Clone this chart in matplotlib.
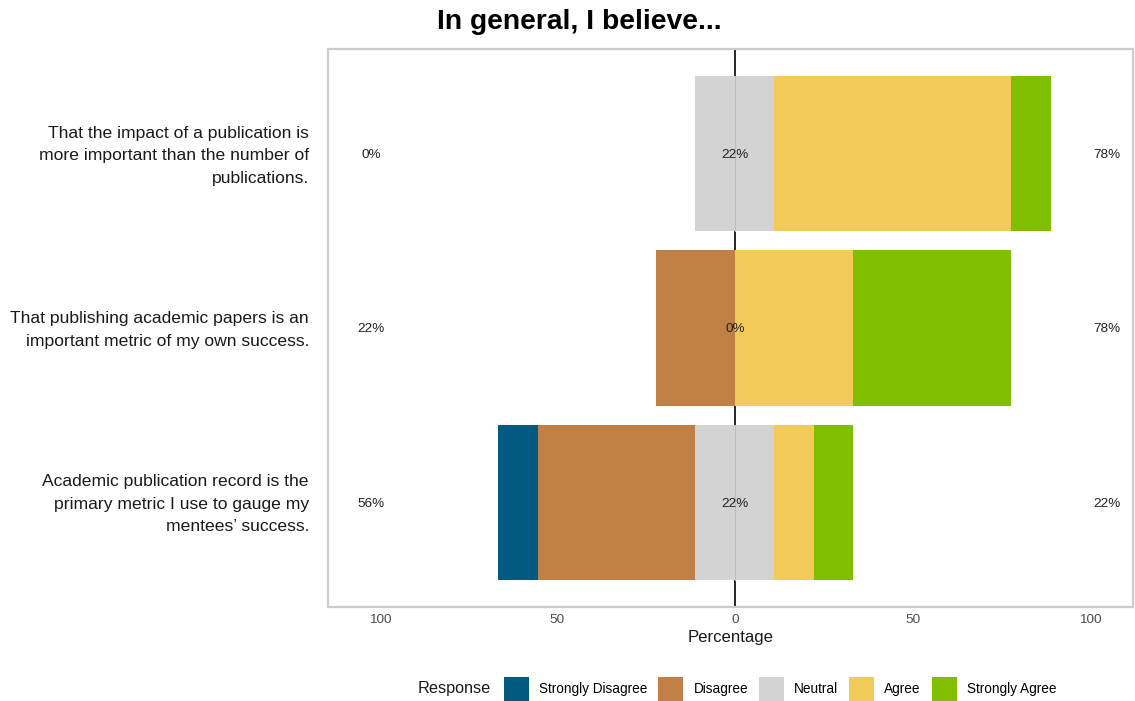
import matplotlib
matplotlib.use("Agg")
import matplotlib.pyplot as plt
from matplotlib.patches import Patch
from matplotlib.transforms import offset_copy
import numpy as np

plt.rcParams['font.family'] = ['Liberation Sans', 'DejaVu Sans']

# Survey items, top to bottom
items = [
    "That the impact of a publication is\nmore important than the number of\npublications.",
    "That publishing academic papers is an\nimportant metric of my own success.",
    "Academic publication record is the\nprimary metric I use to gauge my\nmentees\u2019 success.",
]

responses = ["Strongly Disagree", "Disagree", "Neutral", "Agree", "Strongly Agree"]
colors = ["#035a80", "#bf7f45", "#d3d3d3", "#f2ca5a", "#80bf00"]

# Percentage of respondents per response level, one value per item
strongly_disagree = [0.0, 0.0, 11.11]
disagree = [0.0, 22.22, 44.44]
neutral = [22.22, 0.0, 22.22]
agree = [66.67, 33.33, 11.11]
strongly_agree = [11.11, 44.44, 11.11]

fig = plt.figure(figsize=(11.35, 7.01), dpi=100)
ax = fig.add_axes([328 / 1135, 94 / 701, 805 / 1135, 558 / 701])

ypos = np.array([3, 2, 1])
h = 0.89

# zero line sits behind the bars
ax.axvline(0, color="black", lw=1.2, zorder=1)

sd = np.array(strongly_disagree)
d = np.array(disagree)
n = np.array(neutral)
a = np.array(agree)
sa = np.array(strongly_agree)

# negative side: half neutral, then disagree, then strongly disagree
ax.barh(ypos, -n / 2, height=h, color=colors[2], lw=0, zorder=2)
ax.barh(ypos, -d, left=-n / 2, height=h, color=colors[1], lw=0, zorder=2)
ax.barh(ypos, -sd, left=-n / 2 - d, height=h, color=colors[0], lw=0, zorder=2)
# positive side: half neutral, then agree, then strongly agree
ax.barh(ypos, n / 2, height=h, color=colors[2], lw=0, zorder=2)
ax.barh(ypos, a, left=n / 2, height=h, color=colors[3], lw=0, zorder=2)
ax.barh(ypos, sa, left=n / 2 + a, height=h, color=colors[4], lw=0, zorder=2)
# faint seam between the two neutral halves
for y, nv in zip(ypos, n):
    if nv > 0:
        ax.plot([0, 0], [y - h / 2, y + h / 2], color="#bdbdbd", lw=0.8, zorder=3)

# summary labels: low, neutral, high
low = sd + d
high = a + sa
pct_tr = offset_copy(ax.transData, fig=fig, x=0, y=-1.5, units="dots")
for y, lo, ne, hi in zip(ypos, low, n, high):
    kw = dict(va="center", ha="center", fontsize=9.7, color="#222222", zorder=4,
              transform=pct_tr)
    ax.text(-102.5, y, f"{int(np.floor(lo + 0.5))}%", **kw)
    ax.text(0, y, f"{int(np.floor(ne + 0.5))}%", **kw)
    ax.text(104.8, y, f"{int(np.floor(hi + 0.5))}%", **kw)

ax.set_xlim(-114.6, 112.1)
ax.set_ylim(0.4, 3.6)

ticks = [-100, -50, 0, 50, 100]
ax.set_xticks(ticks)
ax.set_xticklabels([str(abs(t)) for t in ticks])
ax.set_yticks(ypos)
ax.set_yticklabels([])
ax.tick_params(axis="x", length=0, pad=5, labelsize=9.7, labelcolor="#4d4d4d")
ax.tick_params(axis="y", length=0)
ax.set_xlabel("Percentage", fontsize=12.1, color="#1a1a1a", labelpad=3)

# item labels, right-aligned left of the panel
label_tr = offset_copy(ax.get_yaxis_transform(), fig=fig, x=-19, y=-2, units="dots")
for y, txt in zip(ypos, items):
    ax.text(0, y, txt, transform=label_tr, ha="right", va="center",
            fontsize=12.6, color="#1a1a1a", linespacing=1.62, multialignment="right")

for s in ax.spines.values():
    s.set_color("#cccccc")
    s.set_linewidth(1.6)

fig.text(579.5 / 1135, 1 - 22 / 701, "In general, I believe...", ha="center",
         va="center", fontsize=20.3, fontweight="bold", color="black")

# legend along the bottom
handles = [Patch(facecolor=c, edgecolor="none") for c in colors]
fig.text(418 / 1135, 1 - 689 / 701, "Response", ha="left", va="center",
         fontsize=11.7, color="#1a1a1a")
fig.legend(handles, responses, loc="center left", ncol=5,
           bbox_to_anchor=(504 / 1135, 1 - 689 / 701), frameon=False,
           fontsize=9.8, handlelength=1.84, handleheight=2.3,
           handletextpad=0.74, columnspacing=0.8, borderpad=0,
           borderaxespad=0)

fig.savefig("out.png", dpi=100)
